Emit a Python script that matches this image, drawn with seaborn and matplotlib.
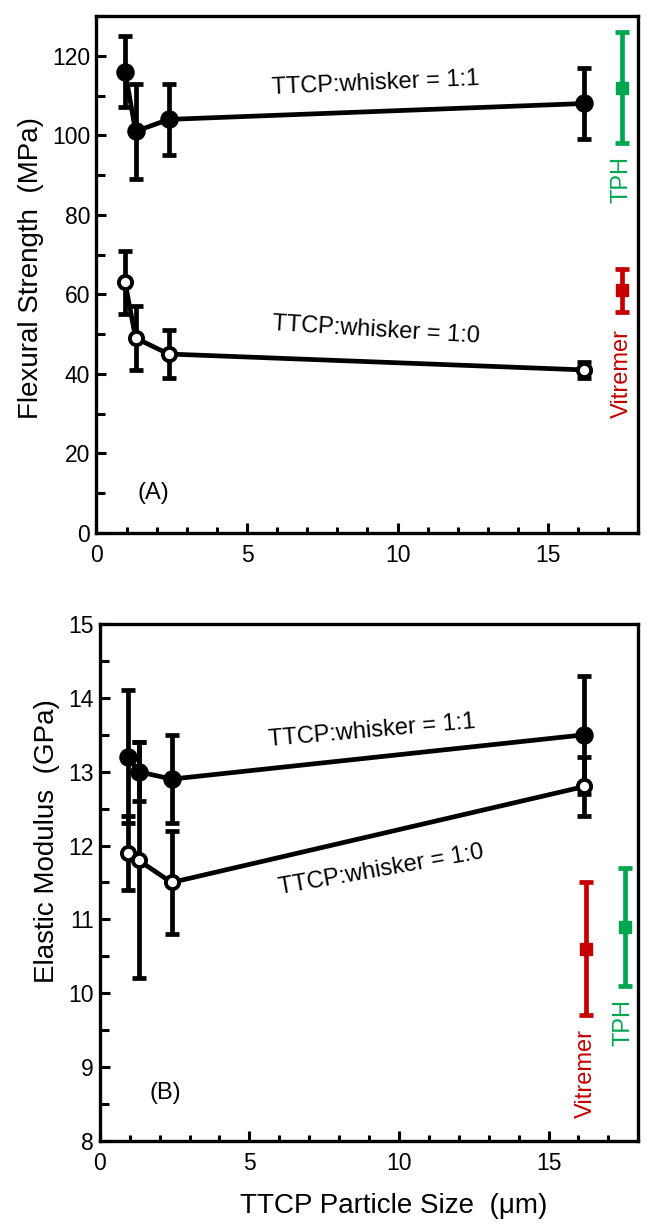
import numpy as np
import pandas as pd
import matplotlib
matplotlib.use("Agg")
import matplotlib.pyplot as plt
from matplotlib.ticker import MultipleLocator
import seaborn as sns

# ---- data ----
size = [0.95, 1.3, 2.4, 16.2]

fs_11 = [116, 101, 104, 108]
fs_11_err = [9, 12, 9, 9]
fs_10 = [63, 49, 45, 41]
fs_10_err = [8, 8, 6, 2]

em_11 = [13.2, 13.0, 12.9, 13.5]
em_11_err = [0.9, 0.4, 0.6, 0.8]
em_10 = [11.9, 11.8, 11.5, 12.8]
em_10_err = [0.5, 1.6, 0.7, 0.4]

ref_names = ["TPH", "Vitremer"]
ref_colors = ["#00a650", "#c40000"]
fs_ref_x = [17.45, 17.45]
fs_ref = [112, 61]
fs_ref_err = [14, 5.5]
em_ref_x = [17.55, 16.25]
em_ref = [10.9, 10.6]
em_ref_err = [0.8, 0.9]

sns.set_style("ticks")
plt.rcParams['font.family'] = ['Liberation Sans', 'DejaVu Sans']
plt.rcParams['text.color'] = 'black'
plt.rcParams['axes.labelcolor'] = 'black'

fig = plt.figure(figsize=(6.52, 12.32), dpi=100)
ax1 = fig.add_axes([0.148, 0.5674, 0.831, 0.4196])
ax2 = fig.add_axes([0.153, 0.0739, 0.826, 0.4196])

LW = 3.4
TXT = 17


def draw_series(ax, y, err, filled):
    df = pd.DataFrame({"size": size, "val": y})
    ax.errorbar(size, y, yerr=err, fmt="none", ecolor="black", elinewidth=LW,
                capsize=5, capthick=LW, zorder=2)
    sns.lineplot(data=df, x="size", y="val", ax=ax, color="black", linewidth=LW,
                 marker="o", markersize=10.5 if filled else 9.5,
                 markerfacecolor="black" if filled else "white",
                 markeredgecolor="black", markeredgewidth=2.8, zorder=3)


def draw_refs(ax, xs, ys, errs):
    for x, y, e, c in zip(xs, ys, errs, ref_colors):
        ax.errorbar([x], [y], yerr=[e], fmt="s", color=c, ms=8, elinewidth=LW,
                    capsize=5, capthick=LW, zorder=3)


# ---- panel A ----
draw_series(ax1, fs_11, fs_11_err, True)
draw_series(ax1, fs_10, fs_10_err, False)
draw_refs(ax1, fs_ref_x, fs_ref, fs_ref_err)
ax1.set_xlim(0, 18)
ax1.set_ylim(0, 130)
ax1.yaxis.set_major_locator(MultipleLocator(20))
ax1.yaxis.set_minor_locator(MultipleLocator(10))
ax1.set_ylabel("Flexural Strength  (MPa)", fontsize=20, labelpad=6)
ax1.yaxis.label.set_y(0.513)
ax1.set_xlabel("")
ax1.text(9.26, 113, "TTCP:whisker = 1:1", fontsize=TXT, ha="center", va="center", rotation=2.5)
ax1.text(9.3, 51, "TTCP:whisker = 1:0", fontsize=TXT, ha="center", va="center", rotation=-3.5)
ax1.text(1.9, 10, "(A)", fontsize=TXT, ha="center", va="center")
ax1.text(17.45, 89, "TPH", color=ref_colors[0], fontsize=TXT, rotation=90, ha="center", va="center")
ax1.text(17.45, 40, "Vitremer", color=ref_colors[1], fontsize=TXT, rotation=90, ha="center", va="center")

# ---- panel B ----
draw_series(ax2, em_11, em_11_err, True)
draw_series(ax2, em_10, em_10_err, False)
draw_refs(ax2, em_ref_x, em_ref, em_ref_err)
ax2.set_xlim(0, 18)
ax2.set_ylim(8, 15)
ax2.yaxis.set_major_locator(MultipleLocator(1))
ax2.yaxis.set_minor_locator(MultipleLocator(0.5))
ax2.set_ylabel("Elastic Modulus  (GPa)", fontsize=20, labelpad=6)
ax2.yaxis.label.set_y(0.58)
ax2.set_xlabel("TTCP Particle Size  (\u03bcm)", fontsize=20, labelpad=13)
ax2.xaxis.label.set_x(0.545)
ax2.text(9.1, 13.55, "TTCP:whisker = 1:1", fontsize=TXT, ha="center", va="center", rotation=5)
ax2.text(9.4, 11.67, "TTCP:whisker = 1:0", fontsize=TXT, ha="center", va="center", rotation=10)
ax2.text(2.2, 8.65, "(B)", fontsize=TXT, ha="center", va="center")
ax2.text(16.25, 8.92, "Vitremer", color=ref_colors[1], fontsize=TXT, rotation=90, ha="center", va="center")
ax2.text(17.5, 9.6, "TPH", color=ref_colors[0], fontsize=TXT, rotation=90, ha="center", va="center")

for ax in (ax1, ax2):
    ax.xaxis.set_major_locator(MultipleLocator(5))
    ax.xaxis.set_minor_locator(MultipleLocator(1))
    ax.tick_params(which="major", direction="in", length=7, width=2.2, labelsize=16.5,
                   color="black", labelcolor="black")
    ax.tick_params(axis="x", which="major", pad=8)
    ax.tick_params(axis="y", which="major", pad=4.5)
    ax.tick_params(which="minor", direction="in", length=4.5, width=2.2, color="black")
    ax.tick_params(axis="y", which="minor", length=6.5)
    ax.tick_params(top=False, right=False)
    for s in ax.spines.values():
        s.set_linewidth(2.4)
        s.set_color("black")
    if ax.get_legend():
        ax.get_legend().remove()

fig.savefig("out.png", dpi=100)
